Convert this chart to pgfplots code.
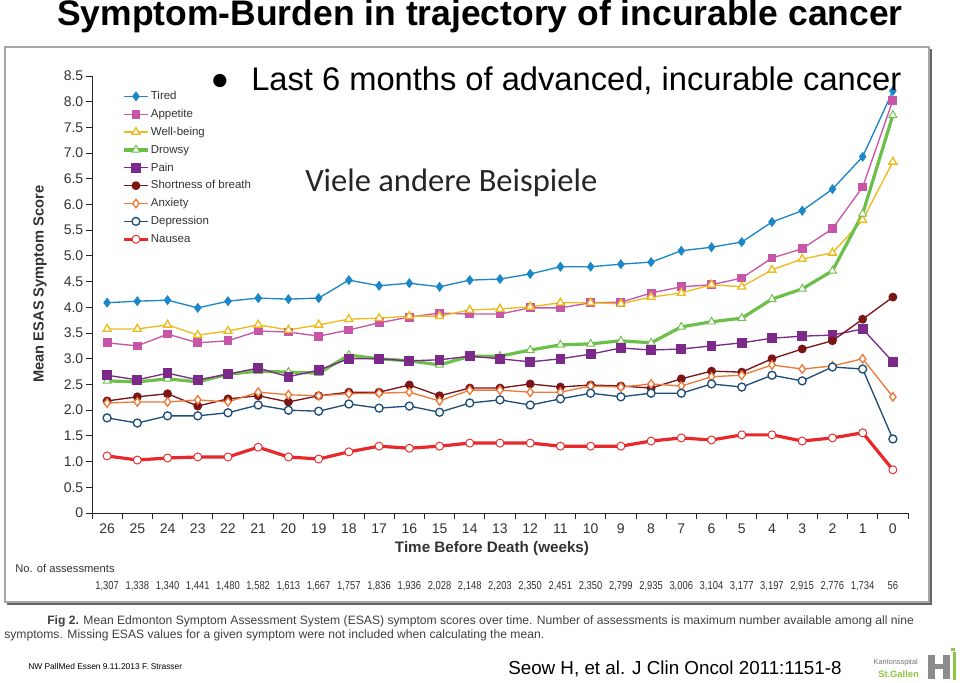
\documentclass[border=0pt]{standalone}
\usepackage{fontspec}
\setmainfont{Liberation Sans}
\newfontfamily\calibri{Carlito}
\newfontfamily\dejavu{DejaVu Sans}
\usepackage{pgfplots}
\usepackage{pgfplotstable}
\pgfplotsset{compat=1.18}
\definecolor{cTired}{HTML}{1B87C8}
\definecolor{cApp}{HTML}{C856A8}
\definecolor{cWell}{HTML}{EDBB1C}
\definecolor{cDrow}{HTML}{6CC04A}
\definecolor{cPain}{HTML}{7B2A8A}
\definecolor{cSob}{HTML}{7A1518}
\definecolor{cAnx}{HTML}{EE7A3A}
\definecolor{cDep}{HTML}{1F4E79}
\definecolor{cNau}{HTML}{E8282B}
\definecolor{txt}{HTML}{333333}
\definecolor{stgreen}{HTML}{8DC63F}
\newcommand{\fs}[1]{\fontsize{#1}{#1}\selectfont}
\pgfplotstableread{
w tired appetite wellbeing drowsy pain sob anxiety depression nausea
26 4.09 3.31 3.58 2.57 2.68 2.18 2.14 1.85 1.11
25 4.12 3.25 3.58 2.55 2.59 2.26 2.16 1.75 1.03
24 4.14 3.48 3.66 2.61 2.72 2.32 2.16 1.89 1.07
23 3.99 3.31 3.46 2.55 2.59 2.08 2.20 1.89 1.09
22 4.12 3.35 3.54 2.70 2.70 2.22 2.16 1.95 1.09
21 4.18 3.54 3.66 2.76 2.82 2.28 2.35 2.10 1.28
20 4.16 3.52 3.56 2.74 2.65 2.16 2.30 2.00 1.09
19 4.18 3.44 3.66 2.72 2.78 2.28 2.28 1.98 1.05
18 4.53 3.56 3.77 3.07 3.00 2.35 2.32 2.12 1.19
17 4.42 3.70 3.79 3.00 3.00 2.35 2.33 2.04 1.30
16 4.47 3.81 3.83 2.96 2.96 2.49 2.35 2.08 1.26
15 4.40 3.89 3.83 2.88 2.98 2.28 2.18 1.96 1.30
14 4.53 3.87 3.95 3.05 3.05 2.43 2.39 2.14 1.36
13 4.55 3.87 3.97 3.05 3.00 2.43 2.39 2.20 1.36
12 4.65 3.99 4.01 3.17 2.94 2.51 2.35 2.10 1.36
11 4.79 3.99 4.09 3.27 3.00 2.45 2.35 2.22 1.30
10 4.79 4.09 4.09 3.29 3.09 2.49 2.47 2.33 1.30
9 4.84 4.10 4.07 3.35 3.21 2.47 2.45 2.26 1.30
8 4.88 4.28 4.20 3.31 3.17 2.43 2.51 2.33 1.40
7 5.10 4.40 4.28 3.62 3.19 2.61 2.47 2.33 1.46
6 5.17 4.44 4.44 3.72 3.25 2.76 2.65 2.51 1.42
5 5.27 4.57 4.40 3.79 3.31 2.74 2.68 2.45 1.52
4 5.66 4.96 4.73 4.16 3.40 3.00 2.88 2.68 1.52
3 5.88 5.14 4.94 4.36 3.44 3.19 2.80 2.57 1.40
2 6.30 5.53 5.06 4.71 3.46 3.35 2.86 2.84 1.46
1 6.93 6.34 5.70 5.82 3.58 3.77 3.00 2.80 1.56
0 8.21 8.03 6.83 7.74 2.94 4.20 2.26 1.44 0.84
}\esas
\begin{document}
\begin{tikzpicture}
% bounding box = 960x682 px (1px = 0.75pt), px (92,513) is the axis origin
\path[use as bounding box, fill=white] (-69pt,-126.75pt) rectangle (651pt,384.75pt);
\begin{scope}[x=0.75pt,y=-0.75pt,xshift=-69pt,yshift=384.75pt]
  \draw[draw=black!35, line width=1.2pt] (5,47) rectangle (929,602);
  \draw[draw=black!60, line width=1.2pt] (931,49) -- (931,604) -- (7,604);
\end{scope}
\begin{axis}[
  at={(0,0)}, anchor=south west,
  scale only axis, width=612pt, height=327.75pt,
  x dir=reverse,
  xmin=-0.5, xmax=26.5, ymin=0, ymax=8.5,
  axis x line=bottom, axis y line=left,
  axis line style={-, draw=black!85, line width=0.7pt},
  xtick={0,...,26},
  major x tick style={draw=none},
  minor xtick={-0.5,0.5,...,26.5},
  minor x tick style={draw=black!85, line width=0.7pt},
  minor tick length=4.5pt,
  ytick={0,0.5,...,8.5},
  yticklabels={0,0.5,1.0,1.5,2.0,2.5,3.0,3.5,4.0,4.5,5.0,5.5,6.0,6.5,7.0,7.5,8.0,8.5},
  major y tick style={draw=black!85, line width=0.7pt},
  major tick length=4.5pt,
  tick align=outside,
  /pgf/number format/assume math mode=true,
  ticklabel style={font=\fs{10.5}, text=txt},
  xticklabel style={yshift=0pt},
  yticklabel style={xshift=1.5pt},
  clip=false,
  legend style={at={(0.032,0.977)}, anchor=north west, draw=none, fill=none,
    font=\fs{8.6}, text=txt, row sep=2.4pt,
    nodes={inner sep=1pt, text height=7pt, text depth=2pt}},
  legend cell align=left,
  legend image code/.code={\draw[mark repeat=2, mark phase=2, #1] plot coordinates {(0pt,0pt) (9pt,0pt) (18pt,0pt)};},
]
\addplot[cTired, line width=1pt, mark=diamond*, mark size=3pt, mark options={solid}] table[x=w,y=tired]{\esas};
\addlegendentry{Tired}
\addplot[cApp, line width=1pt, mark=square*, mark size=2.8pt] table[x=w,y=appetite]{\esas};
\addlegendentry{Appetite}
\addplot[cWell, line width=1pt, mark=triangle*, mark size=3.4pt, mark options={fill=white}] table[x=w,y=wellbeing]{\esas};
\addlegendentry{Well-being}
\addplot[cDrow, line width=2.4pt, mark=triangle*, mark size=3.4pt, mark options={fill=white, line width=0.7pt}] table[x=w,y=drowsy]{\esas};
\addlegendentry{Drowsy}
\addplot[cPain, line width=1pt, mark=square*, mark size=3.2pt] table[x=w,y=pain]{\esas};
\addlegendentry{Pain}
\addplot[cSob, line width=1pt, mark=*, mark size=2.8pt] table[x=w,y=sob]{\esas};
\addlegendentry{Shortness of breath}
\addplot[cAnx, line width=1pt, mark=diamond*, mark size=3.2pt, mark options={fill=white}] table[x=w,y=anxiety]{\esas};
\addlegendentry{Anxiety}
\addplot[cDep, line width=1pt, mark=*, mark size=3pt, mark options={fill=white}] table[x=w,y=depression]{\esas};
\addlegendentry{Depression}
\addplot[cNau, line width=2.4pt, mark=*, mark size=3pt, mark options={fill=white, line width=0.7pt}] table[x=w,y=nausea]{\esas};
\addlegendentry{Nausea}
\end{axis}
\begin{scope}[x=0.75pt,y=-0.75pt,xshift=-69pt,yshift=384.75pt]
  % title
  \node[anchor=base, font=\fs{26.6}\bfseries, inner sep=0] at (480,26) {Symptom-Burden in trajectory of incurable cancer};
  \node[font=\dejavu\fs{13}, inner sep=0] at (220,81) {●};
  \node[anchor=base west, font=\fs{24.5}, inner sep=0] at (251,91) {Last 6 months of advanced, incurable cancer};
  \node[anchor=base west, font=\calibri\fs{24.4}, text=black!85, inner sep=0] at (305,192) {Viele andere Beispiele};
  % axis labels
  \node[rotate=90, font=\fs{11}\bfseries, text=txt, inner sep=0] at (40,284) {Mean ESAS Symptom Score};
  \node[font=\fs{11.4}\bfseries, text=txt, inner sep=0] at (492,549) {Time Before Death (weeks)};
  % number of assessments
  \node[anchor=base west, font=\fs{8.4}, text=txt, inner sep=0] at (15,572) {No. of assessments};
  \foreach \n [count=\i from 0] in {{1,307},{1,338},{1,340},{1,441},{1,480},{1,582},{1,613},{1,667},{1,757},{1,836},{1,936},{2,028},{2,148},{2,203},{2,350},{2,451},{2,350},{2,799},{2,935},{3,006},{3,104},{3,177},{3,197},{2,915},{2,776},{1,734},{56}}
    \node[anchor=base, font=\fs{8.6}, text=txt, xscale=0.82, inner sep=0] at ({107.1+\i*30.22},589) {\n};
  % caption
  \node[anchor=base west, font=\fs{9.1}, text=black!75, inner sep=0] at (47,624) {\textbf{Fig 2.} Mean Edmonton Symptom Assessment System (ESAS) symptom scores over time. Number of assessments is maximum number available among all nine};
  \node[anchor=base west, font=\fs{9.1}, text=black!75, inner sep=0] at (4,638) {symptoms. Missing ESAS values for a given symptom were not included when calculating the mean.};
  % footer
  \node[anchor=base west, font=\fs{6.3}, inner sep=0] at (28,669) {NW PallMed Essen 9.11.2013 F. Strasser};
  \node[anchor=base west, font=\fs{14.1}, inner sep=0] at (508,674) {Seow H, et al. J Clin Oncol 2011:1151-8};
  % logo
  \node[anchor=base east, font=\fs{5.5}, text=black!55, inner sep=0] at (918,664) {Kantonsspital};
  \node[anchor=base east, font=\fs{7}\bfseries, text=stgreen, inner sep=0] at (919,677) {St.Gallen};
  \fill[black!45] (928,655) rectangle (935,679);
  \fill[black!45] (943,655) rectangle (950,679);
  \fill[black!45] (935,664) rectangle (943,669);
  \fill[stgreen] (953,652) rectangle (956,680);
  \fill[stgreen] (951,648) rectangle (955,651);
\end{scope}
\end{tikzpicture}
\end{document}
